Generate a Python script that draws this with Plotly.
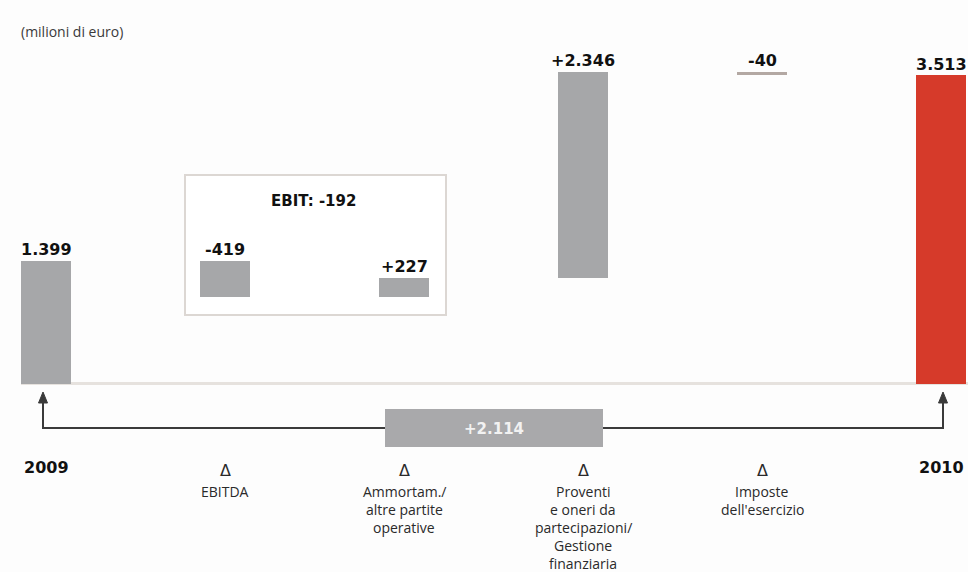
import plotly.graph_objects as go

# ---- data (milioni di euro) ----
categories = ["2009", "EBITDA", "Ammortam", "Proventi", "Imposte", "2010"]
start_value = 1399
deltas = [-419, 227, 2346, -40]
end_value = 3513

category_lines = [
    [],
    ["EBITDA"],
    ["Ammortam./", "altre partite", "operative"],
    ["Proventi", "e oneri da", "partecipazioni/", "Gestione", "finanziaria"],
    ["Imposte", "dell'esercizio"],
    [],
]

W, H = 968, 572
GRAY = "#a6a7a9"
RED = "#d63a2a"
INK = "#111111"
TEXT = "#2a2a2a"


def it_num(v, signed=False):
    s = f"{abs(v):,}".replace(",", ".")
    if v < 0:
        return "-" + s
    return ("+" + s) if signed else s


def px(x):
    return x / W


def py(y):
    return 1 - y / H


# ---- waterfall geometry from the data ----
bases, heights, labels, colors = [0], [start_value], [it_num(start_value)], [GRAY]
running = start_value
for d in deltas:
    if d < 0:
        bases.append(running + d)
        heights.append(-d)
    else:
        bases.append(running)
        heights.append(d)
    labels.append(it_num(d, signed=True))
    colors.append("#b3a8a3" if abs(d) < 100 else GRAY)
    running += d
bases.append(0)
heights.append(end_value)
labels.append(it_num(end_value))
colors.append(RED)

xs = list(range(len(categories)))

fig = go.Figure(
    go.Bar(
        x=xs,
        y=heights,
        base=bases,
        width=0.279,
        marker=dict(color=colors, line=dict(width=0)),
        hoverinfo="skip",
    )
)

annotations = []


def note(text, x, y, xref="paper", yref="paper", xanchor="center", **kw):
    annotations.append(dict(
        x=x, y=y, xref=xref, yref=yref, text=text, showarrow=False,
        xanchor=xanchor, yanchor="middle", **kw,
    ))


# value labels above each bar
for i, (b, h, lab) in enumerate(zip(bases, heights, labels)):
    note(f"<b>{lab}</b>", i, b + h, xref="x", yref="y", yshift=11,
         font=dict(family="DejaVu Sans", size=16, color=INK))

# EBIT subtotal box
ebit = deltas[0] + deltas[1]
note(f"<b>EBIT: {it_num(ebit)}</b>", px(313), py(201),
     font=dict(family="DejaVu Sans", size=15, color=INK))

# unit note
note("(milioni di euro)", px(19), py(32), xanchor="left",
     font=dict(family="Open Sans", size=14, color="#3a3a3a"))

# year labels
for i in (0, len(categories) - 1):
    note(f"<b>{categories[i]}</b>", i, py(467), xref="x",
         font=dict(family="DejaVu Sans", size=16, color=INK))

# delta category labels
for i, lines in enumerate(category_lines):
    if not lines:
        continue
    note("Δ", i, py(470), xref="x",
         font=dict(family="DejaVu Sans", size=16, color=TEXT))
    for k, line in enumerate(lines):
        note(line, i, py(491 + 18 * k), xref="x",
             font=dict(family="Open Sans", size=14, color=TEXT))

# total change between the two years
change = end_value - start_value
note(f"<b>{it_num(change, signed=True)}</b>", px(494), py(429),
     font=dict(family="DejaVu Sans", size=15, color="#f2f2f2"))

LINE = "#3a3a3a"
shapes = [
    # EBIT frame
    dict(type="rect", xref="paper", yref="paper",
         x0=px(185), x1=px(446), y0=py(315), y1=py(175),
         line=dict(color="#dcd7d3", width=2), fillcolor="#ffffff", layer="below"),
    # baseline
    dict(type="line", xref="paper", yref="y",
         x0=px(21), x1=1, y0=0, y1=0,
         line=dict(color="#e6e2de", width=3), layer="below"),
    # connector from 2009 to 2010
    dict(type="path", xref="paper", yref="paper",
         path=f"M {px(43)},{py(401)} L {px(43)},{py(428)} L {px(943)},{py(428)} L {px(943)},{py(401)}",
         line=dict(color=LINE, width=2)),
    # change box
    dict(type="rect", xref="paper", yref="paper",
         x0=px(385), x1=px(603), y0=py(447), y1=py(409),
         line=dict(width=0), fillcolor="#a9a9ab"),
]
for ax_px in (43, 943):
    shapes.append(dict(
        type="path", xref="paper", yref="paper",
        path=f"M {px(ax_px - 4.5)},{py(403)} L {px(ax_px + 4.5)},{py(403)} L {px(ax_px)},{py(392)} Z",
        fillcolor=LINE, line=dict(color=LINE, width=1),
    ))

# pixel scale: categories 179 px apart starting at x=46, 0.0878 px per unit with zero at y=383.5
x_step, x0_px = 179.0, 46.0
k, base_px = 0.0878, 383.5

fig.update_layout(
    width=W, height=H,
    margin=dict(l=0, r=0, t=0, b=0),
    paper_bgcolor="#fdfdfd", plot_bgcolor="#fdfdfd",
    showlegend=False,
    xaxis=dict(range=[-x0_px / x_step, (W - x0_px) / x_step], visible=False, fixedrange=True),
    yaxis=dict(range=[-(H - base_px) / k, base_px / k], visible=False, fixedrange=True),
    annotations=annotations,
    shapes=shapes,
    bargap=0,
)

fig.write_html("out.html")
